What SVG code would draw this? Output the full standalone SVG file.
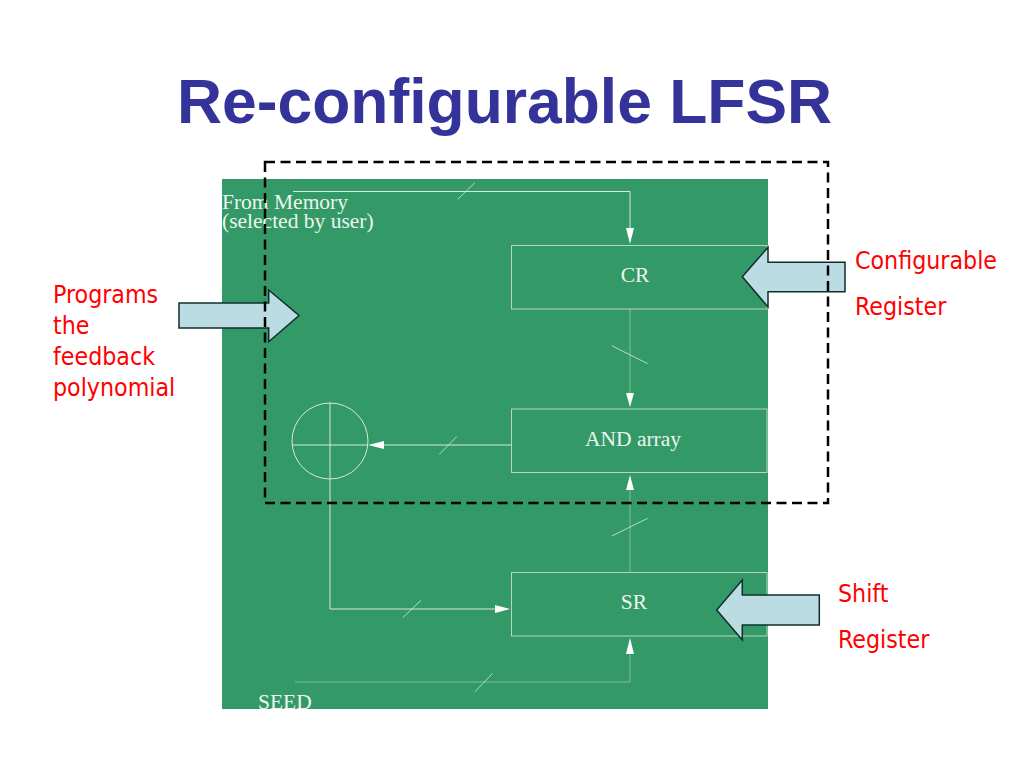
<svg xmlns="http://www.w3.org/2000/svg" width="1024" height="768" viewBox="0 0 1024 768">
<style>
.title{font:bold 62.4px "Liberation Sans",Arial,sans-serif;fill:#333399}
.note{font:24.7px "DejaVu Sans",sans-serif;font-stretch:condensed;fill:#ff0000}
.lab{font:21.5px "Liberation Serif",serif;fill:#eef5ef}
.box{fill:none;stroke:#b8d4bf;stroke-width:1}
.wire{fill:none;stroke:#d8e8da;stroke-width:1}
.dim{fill:none;stroke:#86bb9b;stroke-width:1}
.tick{fill:none;stroke:#d8e8da;stroke-width:.8}
.block{fill:#bbdce2;stroke:#0f2f2f;stroke-width:1.5}
.head{fill:#fff}
</style>
<rect width="1024" height="768" fill="#fff"/>
<text class="title" x="177" y="123">Re-configurable LFSR</text>
<rect id="panel" x="222" y="179" width="546" height="530" fill="#339966"/>
<g id="connectors">
<path class="wire" d="M293 191.500H630V230"/>
<path class="dim" d="M630 309V394"/>
<path class="wire" d="M511 445H382"/>
<path class="wire" d="M330 479V609H497"/>
<path class="dim" d="M630 572V488"/>
<path class="dim" d="M295 682H630V652"/>
<polygon class="head" points="630,244 626,228 634,228"/>
<polygon class="head" points="630,407 626,393 634,393"/>
<polygon class="head" points="368,445 384,441 384,449"/>
<polygon class="head" points="510,609 495,605 495,613"/>
<polygon class="head" points="630,475 626,490 634,490"/>
<polygon class="head" points="630,638 626,654 634,654"/>
<path class="tick" d="M457.700 199.300L475 182.700M611.700 345.700L647.700 363.700M439.300 454.300L456.700 436.700M402.700 617.700L421 600.300M611.700 536L647.700 518.300M475 691.700L492.700 673.300"/>
</g>
<g id="cr"><rect class="box" x="511.500" y="245.500" width="255.500" height="63.500"/><text class="lab" x="635" y="282" text-anchor="middle">CR</text></g>
<g id="and-array"><rect class="box" x="511.500" y="409" width="255.500" height="63.500"/><text class="lab" x="633" y="446" text-anchor="middle">AND array</text></g>
<g id="sr"><rect class="box" x="511.500" y="572.500" width="255.500" height="63.500"/><text class="lab" x="634" y="609" text-anchor="middle">SR</text></g>
<g id="xor"><circle class="wire" cx="330" cy="441" r="38"/><path class="wire" d="M330 403V479M292 445H368"/></g>
<g id="from-memory"><text class="lab" x="222" y="209">From Memory</text><text class="lab" x="222" y="227.500">(selected by user)</text></g>
<g id="seed"><text class="lab" x="258" y="709">SEED</text></g>
<g id="arrow-programs"><polygon class="block" points="179,303 268.700,303 268.700,290 299,315.500 268.700,341.700 268.700,328 179,328"/></g>
<g id="arrow-cr"><polygon class="block" points="845,262.300 768,262.300 768,247.300 742.300,276.700 768,307 768,291.700 845,291.700"/></g>
<g id="arrow-sr"><polygon class="block" points="819.300,595 742.300,595 742.300,580 716.700,610 742.300,640 742.300,625 819.300,625"/></g>
<rect id="dashed-frame" x="265" y="162" width="563" height="341" fill="none" stroke="#000" stroke-width="2.500" stroke-dasharray="10 5.500"/>
<g id="note-programs"><text class="note" x="53" y="303">Programs</text><text class="note" x="53" y="334">the</text><text class="note" x="53" y="365">feedback</text><text class="note" x="53" y="396">polynomial</text></g>
<g id="note-cr"><text class="note" x="855" y="269">Configurable</text><text class="note" x="855" y="315">Register</text></g>
<g id="note-sr"><text class="note" x="838" y="602">Shift</text><text class="note" x="838" y="648">Register</text></g>
</svg>
